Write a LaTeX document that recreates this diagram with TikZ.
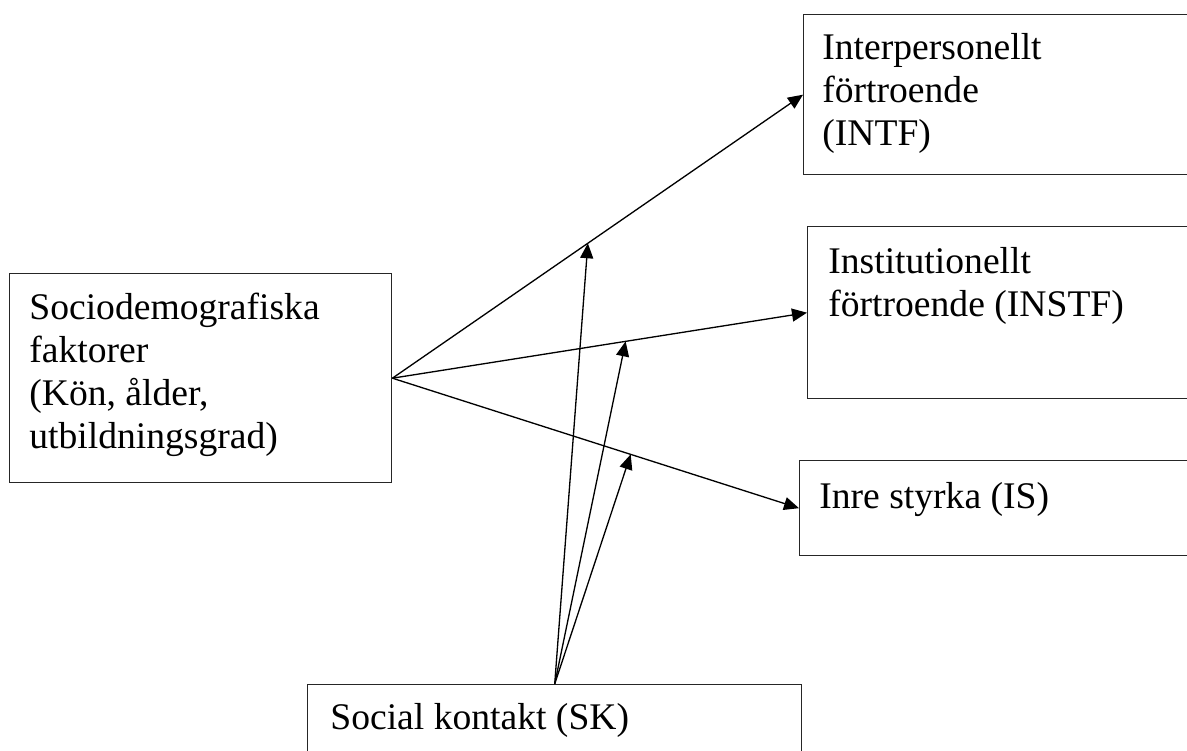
\documentclass[tikz,border=0pt]{standalone}
\usepackage{fontspec}
\setmainfont{Liberation Serif}
\usetikzlibrary{positioning,arrows.meta}

\begin{document}
\begin{tikzpicture}[
    box/.style={rectangle, draw=black!85, line width=0.8pt, anchor=north west, inner sep=0pt},
    boxtext/.style={anchor=north west, inner sep=0pt, align=left, font=\fontsize{21.4}{24.4}\selectfont},
    arr/.style={-{Triangle[length=0.3cm,width=0.26cm]}, line width=0.75pt}]

            \useasboundingbox (0,0) rectangle (23.74,15.02);

            % Boxes
            \node[box, minimum width=7.64cm, minimum height=4.18cm] (socio) at (0.18,9.56) {};
            \node[box, minimum width=8.2cm, minimum height=3.2cm] (intf) at (16.06,14.74) {};
            \node[box, minimum width=8.1cm, minimum height=3.44cm] (instf) at (16.14,10.5) {};
            \node[box, minimum width=8.3cm, minimum height=1.9cm] (is) at (15.98,5.82) {};
            \node[box, minimum width=9.88cm, minimum height=1.8cm] (sk) at (6.14,1.34) {};

            % Texts
            \node[boxtext, below right=0.33cm and 0.40cm of socio.north west] (sociotext)
                {\strut Sociodemografiska\\faktorer\\(Kön, ålder,\\utbildningsgrad)};
            \node[boxtext, below right=0.31cm and 0.38cm of intf.north west] (intftext)
                {\strut Interpersonellt\\förtroende\\(INTF)};
            \node[boxtext, below right=0.35cm and 0.42cm of instf.north west] (instftext)
                {\strut Institutionellt\\förtroende (INSTF)};
            \node[boxtext, below right=0.37cm and 0.40cm of is.north west] (istext)
                {\strut Inre styrka (IS)};
            \node[boxtext, below right=0.31cm and 0.46cm of sk.north west] (sktext)
                {\strut Social kontakt (SK)};

            % Edges (directed)
            \draw[arr] (socio.east) -- coordinate[pos=0.476] (m1) (intf.west);
            \draw[arr] (socio.east) -- coordinate[pos=0.5625] (m2) (instf.west);
            \draw[arr] (socio.east) -- coordinate[pos=0.586] (m3) (is.west);

            % Moderation by social contact
            \draw[arr] (sk.north) -- (m1);
            \draw[arr] (sk.north) -- (m2);
            \draw[arr] (sk.north) -- (m3);
            \end{tikzpicture}
\end{document}
